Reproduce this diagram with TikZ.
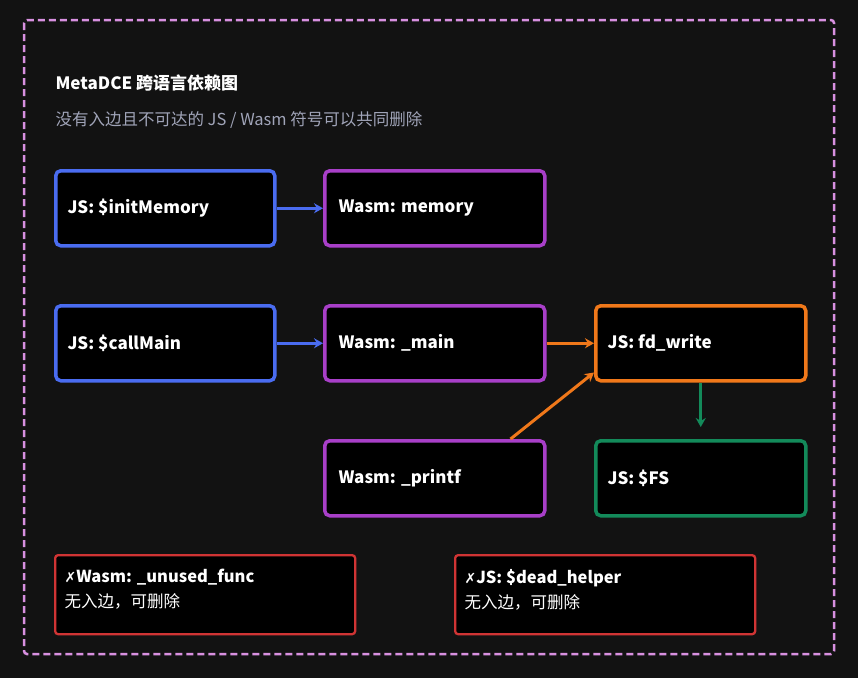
\documentclass[tikz,border=0pt]{standalone}
\usepackage{fontspec}
\setmainfont{Noto Sans CJK SC}
\newfontfamily\symf{DejaVu Sans}
\usetikzlibrary{arrows.meta}
\definecolor{bg}{HTML}{121212}
\definecolor{cblue}{HTML}{4A6CF0}
\definecolor{cpurp}{HTML}{A83FC8}
\definecolor{corg}{HTML}{F0781A}
\definecolor{cgrn}{HTML}{138A5A}
\definecolor{cred}{HTML}{D03434}
\definecolor{cbord}{HTML}{D890E0}
\definecolor{csub}{HTML}{A0A4B8}
\begin{document}
\begin{tikzpicture}[x=1pt,y=-1pt,
 box/.style={draw=#1,line width=3.5pt,fill=black,rounded corners=5pt},
 lbl/.style={anchor=west,text=white,font=\bfseries\fontsize{17}{20}\selectfont},
 arr/.style={draw=#1,line width=3pt,-{Stealth[length=9pt,width=10pt]}}]
\useasboundingbox (0,0) rectangle (858,678);
\fill[bg] (0,0) rectangle (858,678);
\draw[cbord,line width=2.5pt,dash pattern=on 7pt off 4pt,rounded corners=3pt] (24,20) rectangle (834,654);
\node[anchor=west,text=white,font=\bfseries\itshape\fontsize{17}{20}\selectfont] (title) at (52,83) {MetaDCE 跨语言依赖图};
\node[anchor=west,text=csub,font=\fontsize{16.5}{20}\selectfont] (sub) at (52,120) {没有入边且不可达的 JS / Wasm 符号可以共同删除};
\node[box=cblue,minimum width=219,minimum height=75,anchor=north west] (im) at (54,169) {};
\node[lbl] at ([xshift=10pt]im.west) {JS: \$initMemory};
\node[box=cpurp,minimum width=220,minimum height=75,anchor=north west] (mem) at (323,169) {};
\node[lbl] at ([xshift=12pt]mem.west) {Wasm: memory};
\node[box=cblue,minimum width=219,minimum height=75,anchor=north west] (cm) at (54,304) {};
\node[lbl] at ([xshift=10pt]cm.west) {JS: \$callMain};
\node[box=cpurp,minimum width=220,minimum height=75,anchor=north west] (mn) at (323,304) {};
\node[lbl] at ([xshift=12pt]mn.west) {Wasm: \_main};
\node[box=corg,minimum width=210,minimum height=75,anchor=north west] (fd) at (594,304) {};
\node[lbl] at ([xshift=10pt]fd.west) {JS: fd\_write};
\node[box=cpurp,minimum width=220,minimum height=75,anchor=north west] (pf) at (323,439) {};
\node[lbl] at ([xshift=12pt]pf.west) {Wasm: \_printf};
\node[box=cgrn,minimum width=210,minimum height=75,anchor=north west] (fs) at (594,439) {};
\node[lbl] at ([xshift=10pt]fs.west) {JS: \$FS};
\node[draw=cred,line width=2.3pt,fill=black,rounded corners=3pt,minimum width=300,minimum height=79,anchor=north west] (un) at (54,554) {};
\node[anchor=north west,text=white,align=left,font=\fontsize{16.5}{25}\selectfont] at (61,566) {{\symf\fontsize{14}{25}\selectfont ✗}\textbf{Wasm: \_unused\_func}\\ \textit{无入边，可删除}};
\node[draw=cred,line width=2.3pt,fill=black,rounded corners=3pt,minimum width=300,minimum height=79,anchor=north west] (dh) at (454,554) {};
\node[anchor=north west,text=white,align=left,font=\fontsize{16.5}{25}\selectfont] at (461,566) {{\symf\fontsize{14}{25}\selectfont ✗}\textbf{JS: \$dead\_helper}\\ \textit{无入边，可删除}};
\draw[arr=cblue] (im.east) -- (mem.west);
\draw[arr=cblue] (cm.east) -- (mn.west);
\draw[arr=corg] (mn.east) -- (fd.west |- mn.east);
\draw[arr=corg] (pf.north east) ++(-36,0) coordinate (ps) (ps) -- ([yshift=10pt]fd.south west);
\draw[arr=cgrn] (fd.south) -- ([yshift=12pt]fs.north);
\end{tikzpicture}
\end{document}
